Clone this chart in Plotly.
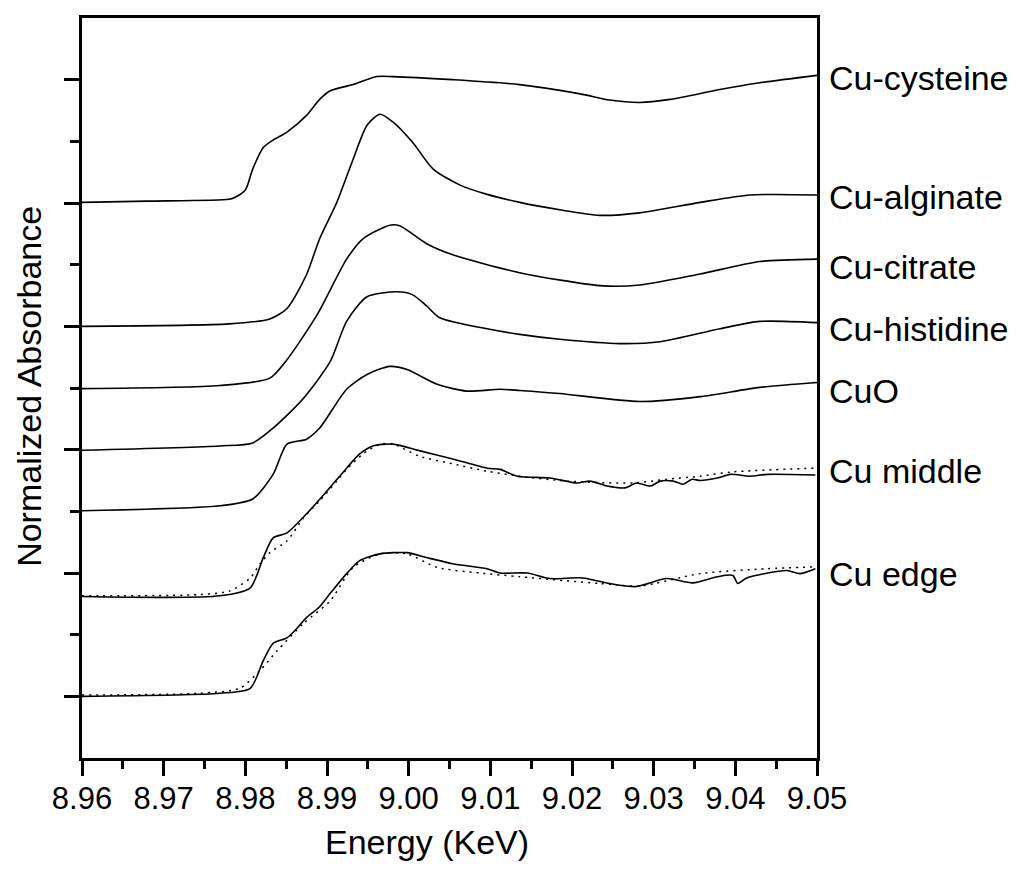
import plotly.graph_objects as go

# ---- data (energy in keV, offset normalized absorbance) ----
cys_E = [8.960, 8.968, 8.978, 8.9787, 8.980, 8.9809, 8.9822, 8.9834, 8.9851, 8.9875, 8.9891, 8.9904,
         8.9932, 8.9961, 8.9981, 9.0054, 9.0136, 9.021, 9.0246, 9.0283, 9.0320, 9.0381, 9.0430, 9.050]
cys_A = [9.01, 9.03, 9.06, 9.09, 9.21, 9.55, 9.90, 10.02, 10.15, 10.42, 10.68, 10.82,
         10.92, 11.05, 11.05, 11.00, 10.92, 10.77, 10.67, 10.63, 10.68, 10.84, 10.95, 11.07]

alg_E = [8.960, 8.978, 8.983, 8.9851, 8.9875, 8.9891, 8.9912, 8.9932, 8.9949, 8.9965, 8.9981, 9.0005,
         9.003, 9.0063, 9.0096, 9.0136, 9.0185, 9.0234, 9.0283, 9.0357, 9.0418, 9.050]
alg_A = [7.00, 7.04, 7.12, 7.29, 7.84, 8.42, 9.01, 9.71, 10.26, 10.44, 10.31, 9.98,
         9.55, 9.29, 9.14, 9.01, 8.89, 8.80, 8.84, 9.01, 9.13, 9.13]

cit_E = [8.960, 8.9769, 8.983, 8.9851, 8.9888, 8.9924, 8.9944, 8.9977, 8.9989, 9.0022, 9.0054,
         9.0136, 9.0234, 9.0283, 9.0357, 9.043, 9.050]
cit_A = [5.99, 6.04, 6.16, 6.46, 7.19, 8.09, 8.42, 8.64, 8.63, 8.34, 8.16,
         7.87, 7.66, 7.67, 7.85, 8.05, 8.09]

his_E = [8.960, 8.9769, 8.9809, 8.9834, 8.9871, 8.9904, 8.9924, 8.9949, 8.9986, 9.0005, 9.0022, 9.0038,
         9.0096, 9.0136, 9.0185, 9.0259, 9.0308, 9.0381, 9.043, 9.050]
his_A = [4.99, 5.06, 5.11, 5.35, 5.83, 6.43, 7.08, 7.48, 7.56, 7.51, 7.33, 7.14,
         6.96, 6.87, 6.79, 6.72, 6.75, 6.96, 7.08, 7.06]

cuo_E = [8.960, 8.9769, 8.9809, 8.9834, 8.9851, 8.9875, 8.9891, 8.9924, 8.9949, 8.9977, 8.9998,
         9.0035, 9.0071, 9.0112, 9.0136, 9.0185, 9.0283, 9.0357, 9.043, 9.050]
cuo_A = [4.01, 4.09, 4.20, 4.60, 5.09, 5.17, 5.35, 5.98, 6.22, 6.35, 6.30,
         6.06, 5.95, 5.98, 5.96, 5.91, 5.78, 5.86, 6.01, 6.09]

mid_E = [8.960, 8.9769, 8.9806, 8.9822, 8.9834, 8.9851, 8.9875, 8.990, 8.9924, 8.994, 8.9956,
         8.9981, 9.0014, 9.0054, 9.0096, 9.0112, 9.0133, 9.0173, 9.0206, 9.0222, 9.0243, 9.0265,
         9.0279, 9.0296, 9.0308, 9.0324, 9.0336, 9.0347, 9.0357, 9.0378, 9.0394, 9.0418, 9.0439, 9.0498]
mid_A = [2.62, 2.63, 2.76, 3.25, 3.57, 3.65, 3.96, 4.33, 4.70, 4.93, 5.06,
         5.09, 4.98, 4.85, 4.70, 4.68, 4.57, 4.54, 4.46, 4.49, 4.41, 4.38,
         4.46, 4.41, 4.49, 4.49, 4.44, 4.52, 4.50, 4.54, 4.60, 4.57, 4.60, 4.59]

mid_fit_E = [8.960, 8.9744, 8.9781, 8.9806, 8.9818, 8.983, 8.9851, 8.9871, 8.9891, 8.9912, 8.9924,
             8.9944, 8.9965, 8.9981, 9.0014, 9.0054, 9.0096, 9.0136, 9.0194, 9.0275, 9.0316,
             9.0357, 9.0397, 9.0498]
mid_fit_A = [2.63, 2.65, 2.71, 2.92, 3.15, 3.33, 3.52, 3.89, 4.17, 4.49, 4.68,
             4.93, 5.09, 5.09, 4.89, 4.77, 4.65, 4.57, 4.49, 4.46, 4.52,
             4.57, 4.64, 4.70]

edg_E = [8.960, 8.9769, 8.9806, 8.9822, 8.9834, 8.9851, 8.9863, 8.9875, 8.9890, 8.9904, 8.9924,
         8.994, 8.9965, 8.9998, 9.0022, 9.0054, 9.0096, 9.0112, 9.0145, 9.0173, 9.0213,
         9.0246, 9.0279, 9.0316, 9.0348, 9.0378, 9.0397, 9.0403, 9.0414, 9.0463, 9.0479, 9.0498]
edg_A = [1.00, 1.05, 1.13, 1.58, 1.86, 1.95, 2.10, 2.28, 2.44, 2.67, 2.99,
         3.20, 3.31, 3.33, 3.25, 3.15, 3.07, 3.00, 3.00, 2.91, 2.92,
         2.83, 2.78, 2.91, 2.84, 2.94, 2.96, 2.83, 2.92, 3.04, 2.99, 3.07]

edg_fit_E = [8.960, 8.9744, 8.9793, 8.9818, 8.9839, 8.9871, 8.9904, 8.9932, 8.9965, 8.9998,
             9.0035, 9.0087, 9.0136, 9.0234, 9.0283, 9.0357, 9.0439, 9.0498]
edg_fit_A = [1.02, 1.05, 1.13, 1.42, 1.74, 2.18, 2.55, 3.09, 3.31, 3.31,
             3.09, 3.00, 2.94, 2.83, 2.79, 2.99, 3.07, 3.10]

labels = ["Cu-cysteine", "Cu-alginate", "Cu-citrate", "Cu-histidine", "CuO", "Cu middle", "Cu edge"]
label_y = [11.03, 9.10, 7.96, 6.95, 5.95, 4.65, 2.99]

x_ticks = [8.96, 8.97, 8.98, 8.99, 9.00, 9.01, 9.02, 9.03, 9.04, 9.05]

FONT = "Arial, Liberation Sans, sans-serif"

fig = go.Figure()
solid = [(cys_E, cys_A), (alg_E, alg_A), (cit_E, cit_A), (his_E, his_A), (cuo_E, cuo_A),
         (mid_E, mid_A), (edg_E, edg_A)]
for (e, a), name in zip(solid, labels):
    fig.add_trace(go.Scatter(x=e, y=a, mode="lines", name=name,
                             line=dict(color="black", width=1.6, shape="spline", smoothing=0.7)))
for (e, a), name in [((mid_fit_E, mid_fit_A), "Cu middle fit"), ((edg_fit_E, edg_fit_A), "Cu edge fit")]:
    fig.add_trace(go.Scatter(x=e, y=a, mode="lines", name=name,
                             line=dict(color="black", width=1.5, dash="2px,5px", shape="spline", smoothing=0.7)))

for t, y in zip(labels, label_y):
    fig.add_annotation(x=1.013, xref="paper", y=y, yref="y", text=t, showarrow=False,
                       xanchor="left", yanchor="middle", font=dict(family=FONT, size=34, color="black"))

fig.add_annotation(x=0.469, xref="paper", y=-0.113, yref="paper", text="Energy (KeV)", showarrow=False,
                   xanchor="center", yanchor="middle", font=dict(family=FONT, size=34, color="black"))
fig.add_annotation(x=-0.073, xref="paper", y=0.502, yref="paper", text="Normalized Absorbance",
                   showarrow=False, textangle=-90, xanchor="center", yanchor="middle",
                   font=dict(family=FONT, size=34, color="black"))

fig.update_layout(
    width=1016, height=868,
    margin=dict(l=74, r=207, t=7, b=118),
    paper_bgcolor="white", plot_bgcolor="white",
    showlegend=False,
    font=dict(family=FONT, color="black"),
)
fig.update_xaxes(
    range=[8.96, 9.05], tickvals=x_ticks, ticktext=[f"{v:.2f}" for v in x_ticks],
    ticks="outside", ticklen=15, tickwidth=2.5, tickcolor="black",
    minor=dict(dtick=0.005, tick0=8.955, ticks="outside", ticklen=8, tickwidth=2.5, tickcolor="black"),
    showline=True, linewidth=2.5, linecolor="black", mirror=True,
    showgrid=False, zeroline=False,
    tickfont=dict(family=FONT, size=31, color="black"),
    ticklabelstandoff=-4,
)
fig.update_yaxes(
    range=[0, 12], tickvals=[1, 3, 5, 7, 9, 11], showticklabels=False,
    ticks="outside", ticklen=15, tickwidth=2.5, tickcolor="black",
    minor=dict(tickvals=[2, 4, 6, 8, 10], ticks="outside", ticklen=9, tickwidth=2.5, tickcolor="black"),
    showline=True, linewidth=2.5, linecolor="black", mirror=True,
    showgrid=False, zeroline=False,
)

fig.write_html("out.html")
